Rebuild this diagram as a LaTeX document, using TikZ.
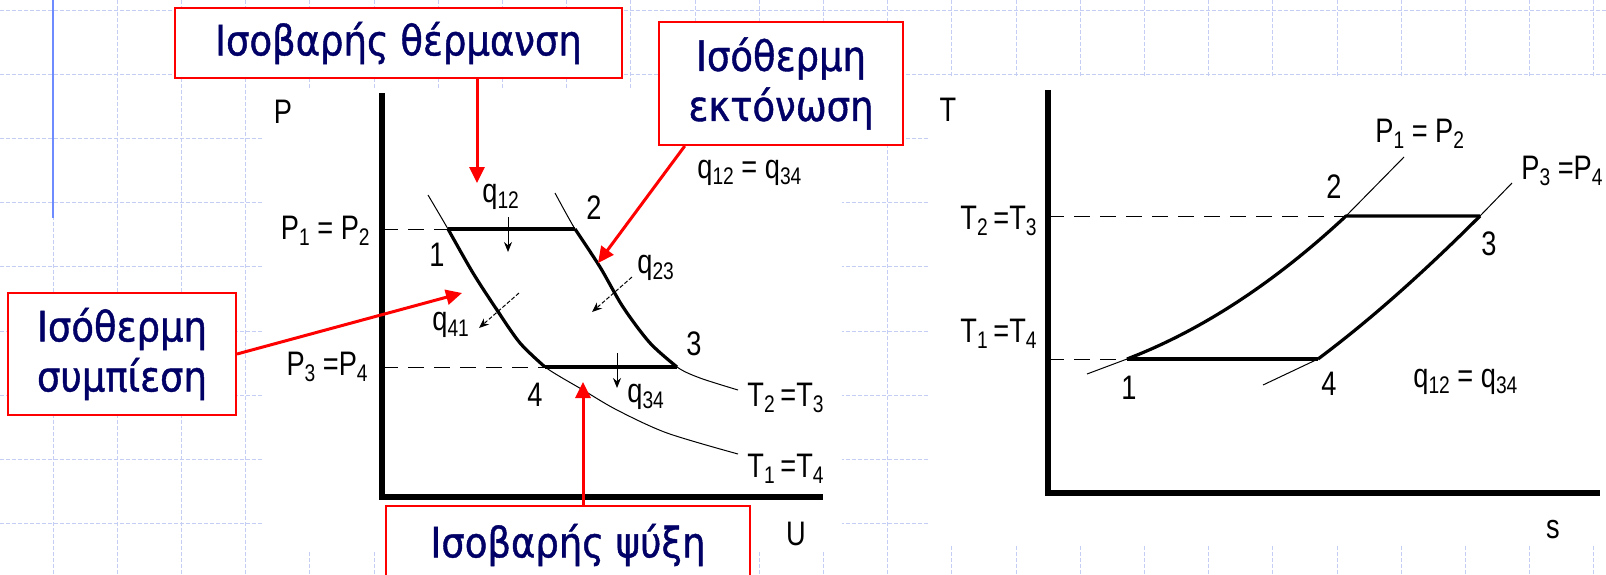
\documentclass[tikz,border=0pt]{standalone}
\usepackage{fontspec}
\usetikzlibrary{arrows.meta, positioning}
\newfontfamily\boxfont{DejaVu Sans}[FakeStretch=0.88, FakeBold=1]
\newfontfamily\plotfont{Liberation Sans}[FakeStretch=0.8]
\definecolor{boxnavy}{RGB}{0,0,102}
\definecolor{gridblue}{RGB}{196,206,244}
\definecolor{barblue}{RGB}{110,140,255}
\newcommand{\sub}[1]{\raisebox{-0.35ex}{\fontsize{12}{12}\selectfont #1}}

\begin{document}
\begin{tikzpicture}[x=0.5pt, y=-0.5pt, >=Stealth]
    \tikzstyle{redbox} = [draw=red, line width=1pt, fill=white, text=boxnavy, align=center, inner sep=0pt, font=\boxfont\fontsize{21}{25}\selectfont]
    \tikzstyle{pointer} = [draw=red, line width=1.5pt, -{Triangle[length=8pt, width=7.5pt]}]
    \tikzstyle{axisline} = [line width=3pt]
    \tikzstyle{cycleline} = [line width=1.6pt, line join=round]
    \tikzstyle{isoline} = [line width=0.5pt]
    \tikzstyle{dashlevel} = [line width=0.5pt, dash pattern=on 8pt off 5pt]
    \tikzstyle{heat} = [line width=0.5pt, -{Stealth[length=5pt, width=4pt]}]
    \tikzstyle{lbl} = [font=\plotfont\fontsize{17}{17}\selectfont, inner sep=0pt]
    \tikzstyle{gridline} = [gridblue, line width=0.5pt, dash pattern=on 2pt off 1pt]

    \useasboundingbox (0,0) rectangle (1606,574);

    % background grid of the slide
    \foreach \i in {0,...,24}
        \draw[gridline] (53+64.2*\i,0) -- (53+64.2*\i,574);
    \foreach \j in {0,...,8}
        \draw[gridline] (0,10+64.2*\j) -- (1606,10+64.2*\j);
    \fill[white] (263,88) rectangle (842,550);
    \fill[white] (930,78) rectangle (1606,545);
    \draw[barblue, line width=1pt] (53,0) -- (53,218);

    % P-U diagram
    \coordinate (pTop) at (382,93);
    \coordinate (pO) at (382,497);
    \coordinate (pEnd) at (823,497);
    \draw[axisline] (pTop) -- (pO) -- (pEnd);
    \node[lbl] (pP) at (283,112) {P};
    \node[lbl] (pU) at (796,534) {U};

    \coordinate (a1) at (448,229);
    \coordinate (a2) at (575,229);
    \coordinate (a3) at (677,367);
    \coordinate (a4) at (545,367);
    \draw[dashlevel] (pO |- a1) -- (a1);
    \draw[dashlevel] (pO |- a4) -- (a4);

    \draw[isoline] plot[smooth] coordinates {(428,195) (a1) (473,273) (497,310) (520,343) (a4) (583,390) (617,410) (667,433) (738,454)};
    \draw[isoline] plot[smooth] coordinates {(555,193) (a2) (600,267) (623,307) (650,343) (a3) (700,378) (738,390)};
    \draw[cycleline] plot[smooth] coordinates {(a1) (473,273) (497,310) (520,343) (a4)};
    \draw[cycleline] plot[smooth] coordinates {(a2) (600,267) (623,307) (650,343) (a3)};
    \draw[cycleline] (a1) -- (a2);
    \draw[cycleline] (a4) -- (a3);

    \node[lbl, anchor=base east] (pl12) at (370,239) {P\sub{1} = P\sub{2}};
    \node[lbl, anchor=base east] (pl34) at (368,375) {P\sub{3} =P\sub{4}};
    \node[lbl, anchor=base west] (tl23) at (747,406) {T\sub{2}\,=T\sub{3}};
    \node[lbl, anchor=base west] (tl14) at (747,477) {T\sub{1}\,=T\sub{4}};
    \node[lbl] (n1) at (437,255) {1};
    \node[lbl] (n2) at (594,208) {2};
    \node[lbl] (n3) at (694,344) {3};
    \node[lbl] (n4) at (535,395) {4};

    % heat flows
    \coordinate (h12s) at (508,217);
    \coordinate (h12e) at (508,252);
    \coordinate (h23s) at (632,277);
    \coordinate (h23e) at (592,312);
    \coordinate (h41s) at (519,293);
    \coordinate (h41e) at (479,328);
    \coordinate (h34s) at (617,353);
    \coordinate (h34e) at (617,388);
    \draw[heat] (h12s) -- (h12e);
    \draw[heat, dash pattern=on 2pt off 1pt] (h23s) -- (h23e);
    \draw[heat, dash pattern=on 2pt off 1pt] (h41s) -- (h41e);
    \draw[heat] (h34s) -- (h34e);
    \node[lbl, anchor=base west] (q12) at (482,202) {q\sub{12}};
    \node[lbl, anchor=base west] (q23) at (637,273) {q\sub{23}};
    \node[lbl, anchor=base west] (q41) at (432,330) {q\sub{41}};
    \node[lbl, anchor=base west] (q34) at (627,402) {q\sub{34}};
    \node[lbl, anchor=base west] (qeqL) at (697,178) {q\sub{12} = q\sub{34}};

    % T-s diagram
    \coordinate (sTop) at (1048,90);
    \coordinate (sO) at (1048,493);
    \coordinate (sEnd) at (1600,493);
    \draw[axisline] (sTop) -- (sO) -- (sEnd);
    \node[lbl] (sT) at (948,110) {T};
    \node[lbl] (sS) at (1553,530) {s};

    \coordinate (b1) at (1127,359);
    \coordinate (b2) at (1346,216);
    \coordinate (b3) at (1480,216);
    \coordinate (b4) at (1318,359);
    \draw[dashlevel] (sO |- b2) -- (b2);
    \draw[dashlevel] (sO |- b1) -- (b1);

    \draw[isoline] (1087,374) -- (b1) .. controls (1200,331) and (1273,284) .. (b2) -- (1404,157);
    \draw[isoline] (1263,385) -- (b4) .. controls (1369,321) and (1423,273) .. (b3) -- (1512,183);
    \draw[cycleline] (b1) .. controls (1200,331) and (1273,284) .. (b2) -- (b3);
    \draw[cycleline] (b4) .. controls (1369,321) and (1423,273) .. (b3);
    \draw[cycleline] (b1) -- (b4);

    \node[lbl, anchor=base west] (sp12) at (1375,142) {P\sub{1} = P\sub{2}};
    \node[lbl, anchor=base west] (sp34) at (1521,179) {P\sub{3} =P\sub{4}};
    \node[lbl, anchor=base west] (st23) at (960,229) {T\sub{2}\,=T\sub{3}};
    \node[lbl, anchor=base west] (st14) at (960,342) {T\sub{1}\,=T\sub{4}};
    \node[lbl] (m1) at (1129,388) {1};
    \node[lbl] (m2) at (1334,187) {2};
    \node[lbl] (m3) at (1489,244) {3};
    \node[lbl] (m4) at (1329,384) {4};
    \node[lbl, anchor=base west] (qeqR) at (1413,387) {q\sub{12} = q\sub{34}};

    % red notes
    \node[redbox, minimum width=223.5pt, minimum height=35pt] (isoheat) at (398.5,43) {Ισοβαρής θέρμανση};
    \node[redbox, minimum width=122pt, minimum height=61.5pt] (isoexp) at (781,83.5) {Ισόθερμη\\εκτόνωση};
    \node[redbox, minimum width=114pt, minimum height=61pt] (isocomp) at (122,354) {Ισόθερμη\\συμπίεση};
    \node[redbox, minimum width=182pt, minimum height=39pt] (isocool) at (568,545) {Ισοβαρής ψύξη};

    \coordinate (tip12) at (477,183);
    \coordinate (tip23) at (598,263);
    \coordinate (tip41) at (462,293);
    \coordinate (tip34) at (583,382);
    \draw[pointer] (isoheat.south -| tip12) -- (tip12);
    \draw[pointer] (isoexp.213.5) -- (tip23);
    \draw[pointer] (isocomp.east) -- (tip41);
    \draw[pointer] (isocool.north -| tip34) -- (tip34);
\end{tikzpicture}
\end{document}
